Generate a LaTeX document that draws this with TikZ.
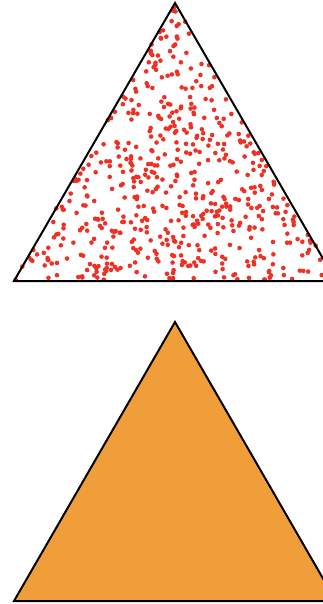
\documentclass[tikz,border=0pt]{standalone}
\definecolor{dotred}{HTML}{EE3124}
\definecolor{tri}{HTML}{F09E3A}
\tikzset{edge/.style={draw=black,line width=2pt,line join=miter},
dot/.style={fill=dotred}}
\begin{document}
\begin{tikzpicture}[x=1pt,y=-1pt]
\useasboundingbox (0,0) rectangle (323,604);
\clip (0,0) rectangle (323,604);
\coordinate (A) at (175,3);
\coordinate (B) at (14,281);
\coordinate (C) at (336,281);
\coordinate (D) at (175,322);
\coordinate (E) at (14,601);
\coordinate (F) at (336,601);
\pgfmathsetseed{11}
\foreach \i in {1,...,560}{
  \pgfmathsetmacro\ra{rnd}
  \pgfmathsetmacro\rb{rnd}
  \pgfmathsetmacro\u{(\ra+\rb>1)?(1-\ra):\ra}
  \pgfmathsetmacro\v{(\ra+\rb>1)?(1-\rb):\rb}
  \pgfmathsetmacro\px{175-161*\u+161*\v}
  \pgfmathsetmacro\py{4+276*\u+276*\v}
  \fill[dot] (\px,\py) circle[radius=2.3pt];
}
\draw[edge] (A) -- (B) -- (C) -- cycle;
\filldraw[edge,fill=tri] (D) -- (E) -- (F) -- cycle;
\end{tikzpicture}
\end{document}
